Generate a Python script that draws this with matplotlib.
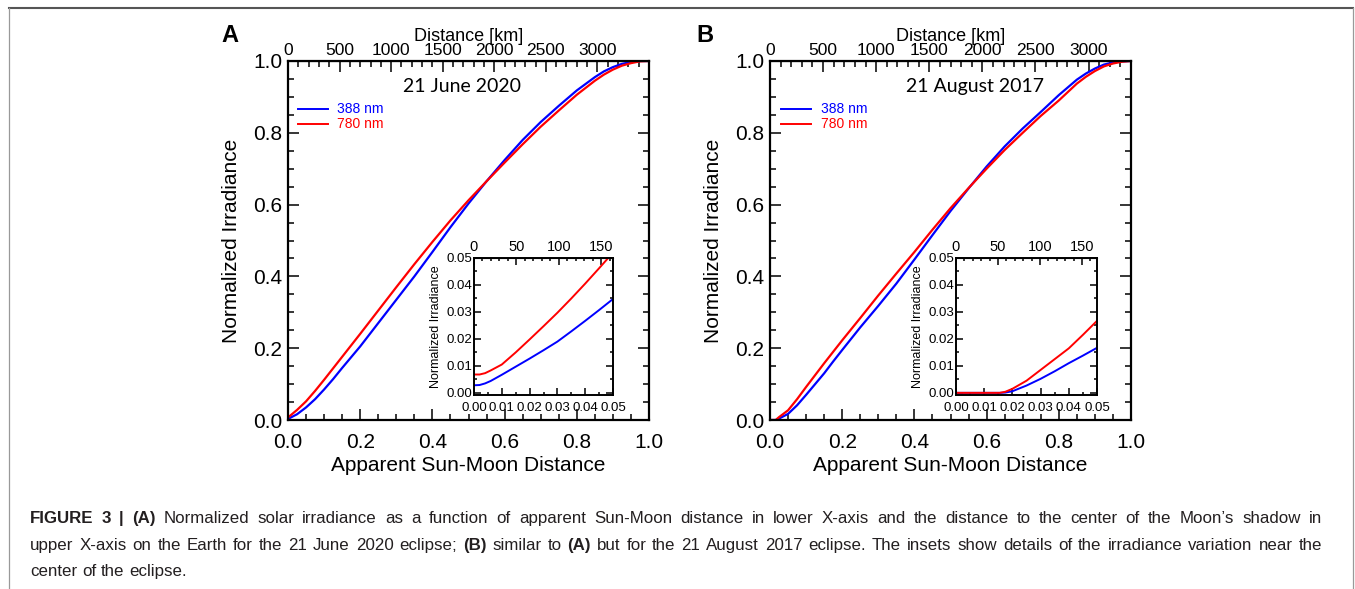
#!/usr/bin/env python3
"""
Normalized irradiance vs apparent Sun-Moon distance, two eclipses with insets
"""

import matplotlib
matplotlib.use('Agg')
import matplotlib.pyplot as plt
from matplotlib.ticker import MultipleLocator, FormatStrFormatter
from matplotlib.lines import Line2D

plt.rcParams['font.family'] = ['Liberation Sans', 'DejaVu Sans']

# ---- data ----
# 21 June 2020
x_june = [0.0, 0.025, 0.05, 0.075, 0.10, 0.125, 0.15, 0.175, 0.20, 0.25, 0.30, 0.35, 0.40,
          0.45, 0.50, 0.55, 0.60, 0.65, 0.70, 0.75, 0.80, 0.85, 0.875, 0.90, 0.925, 0.95,
          0.975, 1.0]
june_388 = [0.003, 0.016, 0.035, 0.058, 0.085, 0.114, 0.145, 0.175, 0.205, 0.270, 0.335,
            0.400, 0.468, 0.537, 0.603, 0.665, 0.724, 0.780, 0.830, 0.875, 0.918, 0.955,
            0.971, 0.983, 0.992, 0.997, 1.0, 1.0]
june_780 = [0.007, 0.028, 0.052, 0.081, 0.112, 0.144, 0.176, 0.208, 0.240, 0.305, 0.370,
            0.434, 0.496, 0.556, 0.612, 0.665, 0.717, 0.768, 0.817, 0.862, 0.906, 0.945,
            0.962, 0.976, 0.987, 0.994, 0.999, 1.0]

# 21 August 2017 (zero until ~0.016)
x_aug = [0.0, 0.016, 0.025, 0.05, 0.075, 0.10, 0.125, 0.15, 0.175, 0.20, 0.25, 0.30, 0.35,
         0.40, 0.45, 0.50, 0.55, 0.60, 0.65, 0.70, 0.75, 0.80, 0.85, 0.875, 0.90, 0.925,
         0.95, 0.975, 1.0]
aug_388 = [0.0, 0.0, 0.004, 0.017, 0.041, 0.070, 0.100, 0.130, 0.163, 0.195, 0.258, 0.318,
           0.380, 0.447, 0.515, 0.582, 0.645, 0.706, 0.762, 0.812, 0.858, 0.905, 0.948,
           0.965, 0.979, 0.990, 0.996, 0.999, 1.0]
aug_780 = [0.0, 0.0, 0.008, 0.027, 0.058, 0.092, 0.125, 0.158, 0.190, 0.222, 0.284, 0.347,
           0.408, 0.468, 0.530, 0.590, 0.646, 0.700, 0.752, 0.800, 0.847, 0.890, 0.937,
           0.956, 0.972, 0.985, 0.993, 0.998, 1.0]

# insets (center of eclipse)
xin_june = [0.0, 0.002, 0.004, 0.006, 0.010, 0.015, 0.020, 0.025, 0.030, 0.035, 0.040, 0.045, 0.050]
in_june_388 = [0.0028, 0.0029, 0.0035, 0.0044, 0.0067, 0.0097, 0.0127, 0.0158, 0.0190,
               0.0228, 0.0267, 0.0307, 0.0348]
in_june_780 = [0.0068, 0.0068, 0.0073, 0.0083, 0.0105, 0.0150, 0.0198, 0.0247, 0.0297,
               0.0350, 0.0405, 0.0462, 0.0520]

xin_aug = [0.0, 0.0155, 0.0175, 0.020, 0.025, 0.030, 0.035, 0.040, 0.045, 0.050]
in_aug_388 = [0.0, 0.0, 0.0001, 0.0006, 0.0027, 0.0052, 0.0080, 0.0110, 0.0138, 0.0167]
in_aug_780 = [0.0, 0.0, 0.0004, 0.0015, 0.0045, 0.0085, 0.0125, 0.0165, 0.0215, 0.0267]

# upper axis extents [km]
km_main = {'A': 3500, 'B': 3400}
km_inset = {'A': 164, 'B': 168}

titles = {'A': '21 June 2020', 'B': '21 August 2017'}

caption_lines = [
    [('FIGURE 3 | (A)', True),
     ('Normalized solar irradiance as a function of apparent Sun-Moon distance in lower '
      'X-axis and the distance to the center of the Moon\u2019s shadow in', False)],
    [('upper X-axis on the Earth for the 21 June 2020 eclipse;', False), ('(B)', True),
     ('similar to', False), ('(A)', True),
     ('but for the 21 August 2017 eclipse. The insets show details of the irradiance '
      'variation near the', False)],
    [('center of the eclipse.', False)],
]

W, H = 1355, 589


def px_rect(left, top, right, bottom):
    return [left / W, 1 - bottom / H, (right - left) / W, (bottom - top) / H]


def style_ticks(ax, size, pad, major_len, minor_len, **kw):
    ax.tick_params(which='both', direction='in', width=1.1, **kw)
    ax.tick_params(which='major', length=major_len, labelsize=size, pad=pad)
    ax.tick_params(which='minor', length=minor_len)


def main_panel(fig, rect, x, y388, y780, key, title_x, legend_x):
    ax = fig.add_axes(rect)
    ax.plot(x, y388, color='#0000ff', lw=1.6)
    ax.plot(x, y780, color='#ff0000', lw=1.6)
    ax.set_xlim(0, 1)
    ax.set_ylim(0, 1)
    for s in ax.spines.values():
        s.set_linewidth(1.6)
    ax.xaxis.set_major_locator(MultipleLocator(0.2))
    ax.xaxis.set_minor_locator(MultipleLocator(0.05))
    ax.yaxis.set_major_locator(MultipleLocator(0.2))
    ax.yaxis.set_minor_locator(MultipleLocator(0.05))
    ax.xaxis.set_major_formatter(FormatStrFormatter('%.1f'))
    ax.yaxis.set_major_formatter(FormatStrFormatter('%.1f'))
    style_ticks(ax, 15, 4, 8, 4, bottom=True, top=False, left=True, right=True)
    ax.tick_params(axis='x', which='major', pad=9)
    ax.set_xlabel('Apparent Sun-Moon Distance', fontsize=15, labelpad=3)
    ax.set_ylabel('Normalized Irradiance', fontsize=15, labelpad=9)

    kmax = km_main[key]
    sec = ax.secondary_xaxis('top', functions=(lambda v: v * kmax, lambda d: d / kmax))
    sec.set_xticks(range(0, 3001, 500))
    sec.xaxis.set_minor_locator(MultipleLocator(100))
    sec.tick_params(which='both', direction='in', width=1.1)
    sec.tick_params(which='major', length=8, labelsize=12.5, pad=2.5)
    sec.tick_params(which='minor', length=4)
    sec.set_xlabel('Distance [km]', fontsize=13, labelpad=1)

    ax.text(title_x, 0.928, titles[key], transform=ax.transAxes, ha='center', va='center',
            fontsize=14, family=['Lato', 'DejaVu Sans'])
    for yy, col, lab in [(0.866, '#0000ff', '388 nm'), (0.825, '#ff0000', '780 nm')]:
        ax.plot([legend_x, legend_x + 0.083], [yy, yy], color=col, lw=1.4,
                transform=ax.transAxes)
        ax.text(legend_x + 0.11, yy, lab, color=col, fontsize=10, va='center',
                transform=ax.transAxes)
    return ax


def inset_panel(fig, rect, x, y388, y780, key):
    ax = fig.add_axes(rect)
    ax.plot(x, y388, color='#0000ff', lw=1.4)
    ax.plot(x, y780, color='#ff0000', lw=1.4)
    ax.set_xlim(0, 0.05)
    ax.set_ylim(-0.0008, 0.05)
    for s in ax.spines.values():
        s.set_linewidth(1.4)
    ax.xaxis.set_major_locator(MultipleLocator(0.01))
    ax.xaxis.set_minor_locator(MultipleLocator(0.005))
    ax.set_yticks([0, 0.01, 0.02, 0.03, 0.04, 0.05])
    ax.yaxis.set_minor_locator(MultipleLocator(0.005))
    ax.xaxis.set_major_formatter(FormatStrFormatter('%.2f'))
    ax.yaxis.set_major_formatter(FormatStrFormatter('%.2f'))
    style_ticks(ax, 9.5, 1.5, 5, 2.5, bottom=True, top=False, left=True, right=True)
    ax.tick_params(axis='x', which='major', pad=5)
    ax.set_ylabel('Normalized Irradiance', fontsize=9, labelpad=3)

    kmax = km_inset[key]
    sec = ax.secondary_xaxis('top', functions=(lambda v: v * kmax / 0.05,
                                               lambda d: d * 0.05 / kmax))
    sec.set_xticks([0, 50, 100, 150])
    sec.xaxis.set_minor_locator(MultipleLocator(10))
    sec.tick_params(which='both', direction='in', width=1.1)
    sec.tick_params(which='major', length=5, labelsize=10.5, pad=3)
    sec.tick_params(which='minor', length=2.5)
    return ax


def draw_justified(fig, x0, x1, y_base, runs, size, justify=True):
    """Draw words of a caption line on one baseline, spread from x0 to x1 (pixels)."""
    r = fig.canvas.get_renderer()
    words = []
    for txt, bold in runs:
        for w in txt.split(' '):
            t = fig.text(0, 1 - y_base / H, w, fontsize=size, color='#231f20',
                         fontweight='bold' if bold else 'normal', va='baseline')
            words.append((t, t.get_window_extent(renderer=r).width))
    total = sum(wd for _, wd in words)
    probe = fig.text(0, 0, 'a a', fontsize=size)
    probe2 = fig.text(0, 0, 'aa', fontsize=size)
    space = probe.get_window_extent(renderer=r).width - probe2.get_window_extent(renderer=r).width
    probe.remove()
    probe2.remove()
    gap = (x1 - x0 - total) / (len(words) - 1) if justify and len(words) > 1 else space
    x = x0
    for t, wd in words:
        t.set_x(x / W)
        x += wd + gap


fig = plt.figure(figsize=(W / 100, H / 100), dpi=100)

main_panel(fig, px_rect(288, 61, 649, 420), x_june, june_388, june_780, 'A', 0.481, 0.027)
main_panel(fig, px_rect(770, 61, 1131, 420), x_aug, aug_388, aug_780, 'B', 0.568, 0.030)
inset_panel(fig, px_rect(474, 258, 613, 395), xin_june, in_june_388, in_june_780, 'A')
inset_panel(fig, px_rect(956, 258, 1097, 395), xin_aug, in_aug_388, in_aug_780, 'B')

fig.text(230 / W, 1 - 35 / H, 'A', fontsize=17, fontweight='bold', ha='center', va='center')
fig.text(705 / W, 1 - 35 / H, 'B', fontsize=17, fontweight='bold', ha='center', va='center')

# page frame
fig.add_artist(Line2D([9 / W, 1353 / W], [1 - 8 / H, 1 - 8 / H], color='#555555', lw=1.5))
fig.add_artist(Line2D([9 / W, 9 / W], [0, 1 - 8 / H], color='#999999', lw=0.9))
fig.add_artist(Line2D([1353 / W, 1353 / W], [0, 1 - 8 / H], color='#999999', lw=0.9))

# caption (justified like the journal layout)
cap = 12.2
draw_justified(fig, 30, 1322, 523, caption_lines[0], cap)
draw_justified(fig, 30, 1322, 550, caption_lines[1], cap)
draw_justified(fig, 30, 1322, 576, caption_lines[2], cap, justify=False)

fig.savefig('out.png', dpi=100)
print('saved out.png')
